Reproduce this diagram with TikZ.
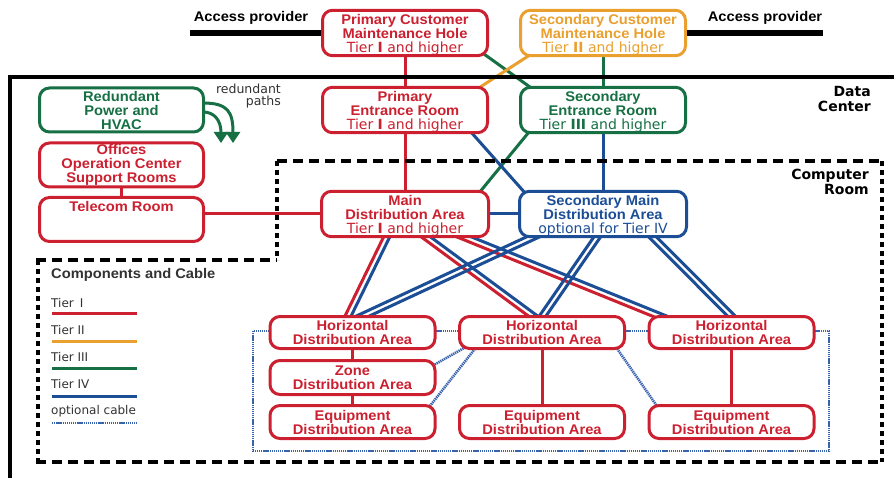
\documentclass[tikz,border=0pt]{standalone}
\usepackage{fontspec}
\setmainfont{DejaVu Sans}
\newfontfamily\headfont{Liberation Sans}[FakeStretch=1.05]
\usetikzlibrary{calc,arrows.meta}

\definecolor{tierone}{RGB}{204,32,48}
\definecolor{tiertwo}{RGB}{234,160,46}
\definecolor{tierthree}{RGB}{22,112,68}
\definecolor{tierfour}{RGB}{28,78,150}
\definecolor{optblue}{RGB}{55,98,172}
\definecolor{inkgray}{RGB}{50,50,50}

\pgfdeclarelayer{paper}
\pgfdeclarelayer{cables}
\pgfsetlayers{paper,cables,main}

% bold heading line inside a room box
\newcommand\hd[1]{{\headfont\bfseries #1}}
% taller first line, so the three text lines sit a little lower
\newcommand\toproom{\rule{0pt}{14.5pt}}

\tikzset{
  room/.style={draw=#1, text=#1, fill=white, line width=3pt, rounded corners=10pt,
    align=center, inner sep=0pt, minimum width=165pt, minimum height=44pt,
    font=\fontsize{14}{14}\selectfont},
  area/.style={room=#1, minimum height=32pt},
  cable/.style={line width=3pt},
  optcable/.style={draw=optblue, line width=2.6pt, dash pattern=on 1.3pt off 0.8pt},
  roomh/.style={line width=4pt, dash pattern=on 10pt off 6pt},
  roomv/.style={line width=4pt, dash pattern=on 5pt off 4pt},
  tag/.style={font=\fontsize{14}{15}\selectfont\bfseries, text=black, align=right, inner sep=0pt},
  provider/.style={font=\fontsize{14}{14}\selectfont\headfont\bfseries, inner sep=0pt},
  legendtxt/.style={font=\fontsize{12}{12}\selectfont, text=inkgray, anchor=west, inner sep=0pt},
}

% single cable between two boxes; both ends tuck under the boxes
\newcommand\runcable[3]{%
  \draw[#1] ($(#2)!-14pt!(#3)$) -- ($(#3)!-14pt!(#2)$);}
% two parallel cables on one route
\newcommand\runpair[4]{%
  \coordinate (cpA) at ($(#1)!-20pt!(#2)$);
  \coordinate (cpB) at ($(#2)!-20pt!(#1)$);
  \draw[cable,draw=#3] (cpA) -- (cpB);
  \draw[cable,draw=#4] ($(cpA)!5.5pt!90:(cpB)$) -- ($(cpB)!5.5pt!-90:(cpA)$);}

\begin{document}
\begin{tikzpicture}[x=1pt,y=-1pt]
\useasboundingbox (0,0) rectangle (894,478);
\begin{pgfonlayer}{paper}
  \fill[white] (0,0) rectangle (894,478);
\end{pgfonlayer}

% ---------- building outline ----------
\draw[line width=4pt] (10,482) -- (10,77) -- (898,77);

% ---------- rooms ----------
\node[room=tierone] (pcmh) at (405,33) {\toproom\hd{Primary Customer}\\\hd{Maintenance Hole}\\Tier \textbf{I} and higher};
\node[room=tiertwo] (scmh) at (603,33) {\toproom\hd{Secondary Customer}\\\hd{Maintenance Hole}\\Tier \textbf{II} and higher};
\node[room=tierone] (per) at (405,110) {\toproom\hd{Primary}\\\hd{Entrance Room}\\Tier \textbf{I} and higher};
\node[room=tierthree] (ser) at (603,110) {\toproom\hd{Secondary}\\\hd{Entrance Room}\\Tier \textbf{III} and higher};
\node[room=tierthree, minimum width=164pt] (rph) at (121.5,110) {\hd{Redundant}\\\hd{Power and}\\\hd{HVAC}};
\node[room=tierone, minimum width=164pt] (ofc) at (121.5,165) {\hd{Offices}\\\hd{Operation Center}\\\hd{Support Rooms}};
\node[room=tierone, minimum width=164pt, text height=10pt, text depth=25pt] (tel) at (121.5,219.5) {\hd{Telecom Room}};
\node[room=tierone, minimum width=167pt] (mda) at (405,214) {\toproom\hd{Main}\\\hd{Distribution Area}\\Tier \textbf{I} and higher};
\node[room=tierfour, minimum width=167pt] (smda) at (603,214) {\toproom\hd{Secondary Main}\\\hd{Distribution Area}\\optional for Tier IV};

\node[area=tierone] (hda1) at (352.5,332.5) {\hd{Horizontal}\\\hd{Distribution Area}};
\node[area=tierone] (hda2) at (542,332.5) {\hd{Horizontal}\\\hd{Distribution Area}};
\node[area=tierone] (hda3) at (731.5,332.5) {\hd{Horizontal}\\\hd{Distribution Area}};
\node[area=tierone, minimum height=34pt] (zda) at (352.5,377.5) {\hd{Zone}\\\hd{Distribution Area}};
\node[area=tierone, minimum height=33pt] (eda1) at (352.5,422) {\hd{Equipment}\\\hd{Distribution Area}};
\node[area=tierone, minimum height=33pt] (eda2) at (542,422) {\hd{Equipment}\\\hd{Distribution Area}};
\node[area=tierone, minimum height=33pt] (eda3) at (731.5,422) {\hd{Equipment}\\\hd{Distribution Area}};

% ---------- text labels ----------
\node[provider] (apl) at (251,18) {Access provider};
\node[provider] (apr) at (765,18) {Access provider};
\node[tag, anchor=north east] (dctag) at (871,86) {Data\\Center};
\node[tag, anchor=north east] (crtag) at (869,169) {Computer\\Room};
\node[font=\fontsize{12.5}{12}\selectfont, text=inkgray, align=right, anchor=north east, inner sep=0pt] (rptag) at (281,84) {redundant\\paths};

% ---------- access provider feeds ----------
\coordinate (aplend) at (190,33);
\coordinate (aprend) at (823,33);
\draw[line width=5.5pt] (aplend) -- (pcmh.west);
\draw[line width=5.5pt] (scmh.east) -- (aprend);

% ---------- cabling ----------
\begin{pgfonlayer}{cables}
  % entrance cabling
  \draw[cable,tierone] (pcmh) -- (per);
  \draw[cable,tierthree] (scmh) -- (ser);
  \runcable{cable,tierthree}{$(pcmh.south)+(82,-1)$}{$(ser.north)+(-72,2)$}
  \runcable{cable,tiertwo}{$(scmh.south)+(-75,-1)$}{$(per.north)+(74,2)$}
  \draw[cable,tierone] (per) -- (mda);
  \draw[cable,tierfour] (ser) -- (smda);
  \runcable{cable,tierthree}{$(ser.south)+(-75,-1)$}{$(mda.north)+(75,2)$}
  \runcable{cable,tierfour}{$(per.south)+(67,-1)$}{$(smda.north)+(-79,2)$}
  \draw[cable,tierfour] (mda) -- (smda);
  \draw[cable,tierone] (tel.center |- mda.center) -- (mda);
  \draw[cable,tierone] (ofc) -- (tel);

  % backbone to the horizontal distribution areas
  \coordinate (m1) at ($(mda.south)+(-22,0)$);
  \coordinate (m2) at ($(mda.south)+(18,0)$);
  \coordinate (m3) at ($(mda.south)+(55,0)$);
  \coordinate (h1r) at ($(hda1.north)+(-7,0)$);
  \coordinate (h2r) at ($(hda2.north)+(-15,0)$);
  \coordinate (h3r) at ($(hda3.north)+(-82,0)$);
  \coordinate (s1) at ($(smda.south)+(-75,-2)$);
  \coordinate (s2) at ($(smda.south)+(-10,0)$);
  \coordinate (s3) at ($(smda.south)+(47,0)$);
  \coordinate (h1b) at ($(hda1.north)+(6,0)$);
  \coordinate (h2b) at ($(hda2.north)+(-2,0)$);
  \coordinate (h3b) at ($(hda3.north)+(-5,0)$);
  \runpair{m1}{h1r}{tierone}{tierfour}
  \runpair{m2}{h2r}{tierone}{tierfour}
  \runpair{m3}{h3r}{tierone}{tierfour}
  \runpair{s1}{h1b}{tierfour}{tierfour}
  \runpair{s2}{h2b}{tierfour}{tierfour}
  \runpair{s3}{h3b}{tierfour}{tierfour}

  % horizontal cabling
  \draw[cable,tierone] (hda1) -- (eda1);
  \draw[cable,tierone] (hda2) -- (eda2);
  \draw[cable,tierone] (hda3) -- (eda3);

  % optional cabling
  \draw[optcable] (253,331) rectangle (829,451);
  \runcable{optcable}{$(hda2.south west)+(6,-2)$}{$(zda.east)+(0,-14)$}
  \runcable{optcable}{$(hda2.south west)+(16,0)$}{$(eda1.north east)+(-5,0)$}
  \runcable{optcable}{$(hda2.south east)+(-8,0)$}{$(eda3.north west)+(8,0)$}
\end{pgfonlayer}

% ---------- redundant power paths ----------
\coordinate (rpa) at (233,143);
\coordinate (rpb) at (221,143);
\draw[cable,tierthree,-{Triangle[width=14pt,length=11pt]}] ($(rph.east)+(-2,-7)$) .. controls (228,103) and (233,112) .. (rpa);
\draw[cable,tierthree,-{Triangle[width=14pt,length=11pt]}] ($(rph.east)+(-2,2)$) .. controls (214,112) and (221,120) .. (rpb);

% ---------- computer room boundary ----------
\draw[roomh] (277,161) -- (884,161);
\draw[roomh] (36,260) -- (277,260);
\draw[roomh] (36,462) -- (884,462);
\draw[roomv] (277,161) -- (277,260);
\draw[roomv] (38,260) -- (38,462);
\draw[roomv] (882,161) -- (882,462);

% ---------- legend ----------
\node[anchor=west, inner sep=0pt, font=\fontsize{14}{14}\selectfont\headfont\bfseries, text=inkgray] (lgtitle) at (51,275) {Components and Cable};
\node[legendtxt] (lg1) at (51,303) {Tier\enspace I};
\node[legendtxt] (lg2) at (51,330) {Tier II};
\node[legendtxt] (lg3) at (51,357) {Tier III};
\node[legendtxt] (lg4) at (51,384) {Tier IV};
\node[legendtxt] (lg5) at (51,411) {optional cable};
\draw[cable,tierone] (52,313) -- (137,313);
\draw[cable,tiertwo] (52,341) -- (137,341);
\draw[cable,tierthree] (52,368) -- (137,368);
\draw[cable,tierfour] (52,396) -- (137,396);
\draw[optcable] (52,423) -- (137,423);
\end{tikzpicture}
\end{document}
